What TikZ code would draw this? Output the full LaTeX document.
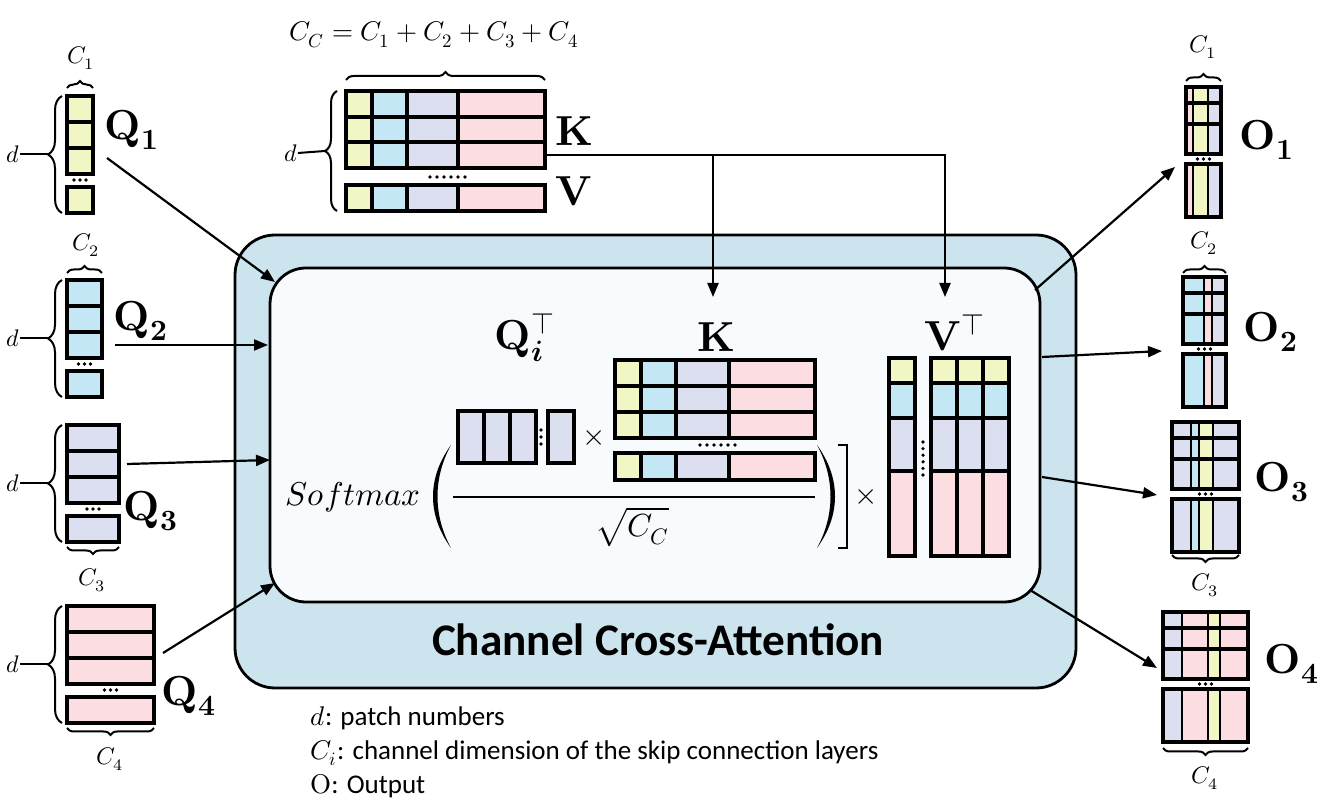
\documentclass[tikz,border=0pt]{standalone}
\usepackage{fontspec}
\usepackage{unicode-math}
\setmainfont{Carlito}
\usepackage{tikz}
\usetikzlibrary{arrows.meta, decorations.pathreplacing, positioning}

\definecolor{cyel}{RGB}{242,245,196}
\definecolor{cblu}{RGB}{196,231,246}
\definecolor{clav}{RGB}{220,223,240}
\definecolor{cpnk}{RGB}{252,222,226}
\definecolor{outerfill}{RGB}{204,228,237}
\definecolor{innerfill}{RGB}{247,251,253}

\begin{document}
\begin{tikzpicture}[
            x=0.5pt, y=-0.5pt,
            cell/.style={draw, line width=1.6pt}, % matrix cells
            sep/.style={draw, line width=1.1pt}, % stripes in the outputs
            arr/.style={-{Triangle[length=7pt, width=5.5pt]}, line width=1.1pt},
            brace/.style={decorate, decoration={brace, amplitude=7pt}, line width=1pt},
            sbrace/.style={brace, decoration={amplitude=3.5pt}},
            box/.style={draw, line width=1.4pt, inner sep=0pt},
            qlab/.style={font=\fontsize{21}{25}\selectfont, inner sep=0pt},
            mlab/.style={font=\fontsize{12}{14}\selectfont, inner sep=0pt},
            flab/.style={font=\fontsize{16}{19}\selectfont, inner sep=0pt},
            legend/.style={font=\fontsize{13.5}{17}\selectfont, align=left, inner sep=0pt}
            ]
    \useasboundingbox (0,0) rectangle (1324,801);

    % attention block
    \node[box, fill=outerfill, rounded corners=20pt, minimum width=420.5pt, minimum height=226.5pt] (outer) at (655.5,461.5) {};
    \node[box, fill=innerfill, rounded corners=18pt, minimum width=385pt, minimum height=167pt] (inner) at (655,435) {};
    \node[font=\fontsize{22.6}{26}\bfseries, inner sep=0pt] (cca) at (658,640) {Channel Cross-Attention};

    % queries on the left
    \foreach \n/\w/\y/\c in {1/26/96/cyel, 2/35/280/cblu, 3/52/425/clav, 4/87/606/cpnk}{
        \foreach \r in {0,1,2}
            \draw[cell, fill=\c] (67,\y+\r*26) rectangle ++(\w,26);
        \draw[cell, fill=\c] (67,\y+91) rectangle ++(\w,26);
        \foreach \k in {-1,0,1}
            \fill (67+\w/2+\k*6,\y+84) circle (0.9pt);
        \draw[brace] (62,\y+117) -- (62,\y);
        \node[mlab] (d\n) at (13,\y+58) {$d$};
        \draw[line width=1pt] (d\n.east) -- (48,\y+58);
    }
    \draw[sbrace] (67,88) -- (93,88);
    \node[mlab] (c1q) at (81,58) {$C_1$};
    \draw[sbrace] (67,273) -- (102,273);
    \node[mlab] (c2q) at (86,245) {$C_2$};
    \draw[sbrace] (119,547) -- (67,547);
    \node[mlab] (c3q) at (92,580) {$C_3$};
    \draw[sbrace] (154,728) -- (67,728);
    \node[mlab] (c4q) at (110,759) {$C_4$};

    \node[qlab] (q1) at (132,130) {$\symbf{Q}_{\symbf{1}}$};
    \node[qlab] (q2) at (141,321) {$\symbf{Q}_{\symbf{2}}$};
    \node[qlab] (q3) at (151,511) {$\symbf{Q}_{\symbf{3}}$};
    \node[qlab] (q4) at (189,696) {$\symbf{Q}_{\symbf{4}}$};

    % keys and values on top
    \foreach \xa/\xb/\c in {346/372/cyel, 372/407/cblu, 407/458/clav, 458/545/cpnk}{
        \foreach \ya in {91,117,142}
            \draw[cell, fill=\c] (\xa,\ya) rectangle (\xb,\ya+26);
        \draw[cell, fill=\c] (\xa,185) rectangle (\xb,211);
    }
    \foreach \k in {0,...,5}
        \fill (430+\k*7,177) circle (0.9pt);
    \draw[brace, decoration={amplitude=6pt}] (337,211) -- (337,91);
    \node[mlab] (dkv) at (291,153) {$d$};
    \draw[line width=1pt] (dkv.east) -- (325,151);
    \draw[brace, decoration={amplitude=4pt}] (346,80) -- (545,80);
    \node[font=\fontsize{13.5}{16}\selectfont, inner sep=0pt] (cc) at (434,35) {$C_C = C_1 + C_2 + C_3 + C_4$};
    \node[qlab] (k) at (574,131) {$\symbf{K}$};
    \node[qlab] (v) at (574,191) {$\symbf{V}$};

    % formula inside the block
    \node[qlab] (qt) at (525,338) {$\symbf{Q}_{\symbfit{i}}^{\top}$};
    \foreach \xa in {458,484,510}
        \draw[cell, fill=clav] (\xa,411) rectangle ++(26,52);
    \draw[cell, fill=clav] (548,411) rectangle (574,463);
    \foreach \k in {0,1,2}
        \fill (541,430+\k*7) circle (0.9pt);
    \node[flab, font=\fontsize{15}{18}\selectfont] (x1) at (594,438) {$\times$};

    \node[qlab] (kt) at (716,337) {$\symbf{K}$};
    \foreach \xa/\xb/\c in {615/641/cyel, 641/676/cblu, 676/729/clav, 729/815/cpnk}{
        \foreach \ya in {360,386,412}
            \draw[cell, fill=\c] (\xa,\ya) rectangle (\xb,\ya+26);
        \draw[cell, fill=\c] (\xa,453) rectangle (\xb,480);
    }
    \foreach \k in {0,...,5}
        \fill (700+\k*7,445) circle (0.9pt);

    \draw[line width=1.1pt] (453,497) -- (815,497);
    \node[flab] (sq) at (632,527) {$\sqrt{C_C}$};
    \node[flab, font=\fontsize{16.5}{19}\selectfont] (smax) at (353,497) {$Softmax$};
    \fill (451,445) .. controls (427,478) and (427,515) .. (451,548)
                    .. controls (433,515) and (433,478) .. (451,445);
    \fill (817,445) .. controls (841,478) and (841,515) .. (817,548)
                    .. controls (835,515) and (835,478) .. (817,445);
    \draw[line width=1.1pt] (838,445) -- (847,445) -- (847,548) -- (838,548);
    \node[flab, font=\fontsize{15}{18}\selectfont] (x2) at (866,497) {$\times$};

    \node[qlab] (vt) at (955,333) {$\symbf{V}^{\top}$};
    \foreach \ya/\yb/\c in {358/383/cyel, 383/418/cblu, 418/471/clav, 471/556/cpnk}{
        \draw[cell, fill=\c] (889,\ya) rectangle (915,\yb);
        \foreach \xa in {931,957,983}
            \draw[cell, fill=\c] (\xa,\ya) rectangle ++(26,\yb-\ya);
    }
    \foreach \k in {0,...,5}
        \fill (923,442+\k*6.6) circle (0.9pt);

    % outputs on the right
    \foreach \y/\l/\r/\s in {
            87/1186/1221/{1186/1193/cpnk, 1193/1208/cyel, 1208/1221/clav},
            277/1183/1226/{1183/1204/cblu, 1204/1212/cpnk, 1212/1226/clav},
            422/1172/1239/{1172/1191/clav, 1191/1199/cblu, 1199/1213/cyel, 1213/1239/clav},
            612/1163/1248/{1163/1182/clav, 1182/1208/cpnk, 1208/1220/cyel, 1220/1248/cpnk}}{
        \foreach \xa/\xb/\c in \s {
            \fill[\c] (\xa,\y) rectangle (\xb,\y+67);
            \fill[\c] (\xa,\y+77) rectangle (\xb,\y+130);
            \draw[sep] (\xa,\y) -- (\xa,\y+67) (\xa,\y+77) -- (\xa,\y+130);
        }
        \draw[cell] (\l,\y+16) -- (\r,\y+16) (\l,\y+37) -- (\r,\y+37);
        \draw[cell] (\l,\y) rectangle (\r,\y+67) (\l,\y+77) rectangle (\r,\y+130);
        \foreach \k in {-1,0,1}
            \fill ({(\l+\r)/2+\k*6},\y+72) circle (0.9pt);
    }
    \draw[sbrace] (1186,81) -- (1221,81);
    \node[mlab] (c1o) at (1203,47) {$C_1$};
    \draw[sbrace] (1183,273) -- (1226,273);
    \node[mlab] (c2o) at (1204,243) {$C_2$};
    \draw[sbrace] (1239,555) -- (1172,555);
    \node[mlab] (c3o) at (1205,585) {$C_3$};
    \draw[sbrace] (1248,748) -- (1163,748);
    \node[mlab] (c4o) at (1205,778) {$C_4$};

    \node[qlab] (o1) at (1267,140) {$\symbf{O}_{\symbf{1}}$};
    \node[qlab] (o2) at (1271,332) {$\symbf{O}_{\symbf{2}}$};
    \node[qlab] (o3) at (1282,482) {$\symbf{O}_{\symbf{3}}$};
    \node[qlab] (o4) at (1292,664) {$\symbf{O}_{\symbf{4}}$};

    % connectors
    \coordinate (q1s) at (107,158);   \coordinate (q1e) at (275,282);
    \coordinate (q2s) at (115,345);   \coordinate (q2e) at (268,345);
    \coordinate (q3s) at (127,464);   \coordinate (q3e) at (270,460);
    \coordinate (q4s) at (163,653);   \coordinate (q4e) at (275,583);
    \coordinate (o1s) at (1035,290);  \coordinate (o1e) at (1175,167);
    \coordinate (o2s) at (1042,357);  \coordinate (o2e) at (1162,351);
    \coordinate (o3s) at (1042,477);  \coordinate (o3e) at (1157,495);
    \coordinate (o4s) at (1030,590);  \coordinate (o4e) at (1157,668);
    \coordinate (kvout) at (546,155);
    \coordinate (kin) at (713,297);
    \coordinate (vin) at (945,297);
    \foreach \a in {q1,q2,q3,q4,o1,o2,o3,o4}
        \draw[arr] (\a s) -- (\a e);
    \draw[arr] (kvout) -| (vin);
    \draw[arr] (kvout -| kin) -- (kin);

    % legend
    \node[legend, anchor=north west] (leg) at (310,706) {$d$: patch numbers\\$C_i$: channel dimension of the skip connection layers\\$\symup{O}$: Output};

\end{tikzpicture}
\end{document}
